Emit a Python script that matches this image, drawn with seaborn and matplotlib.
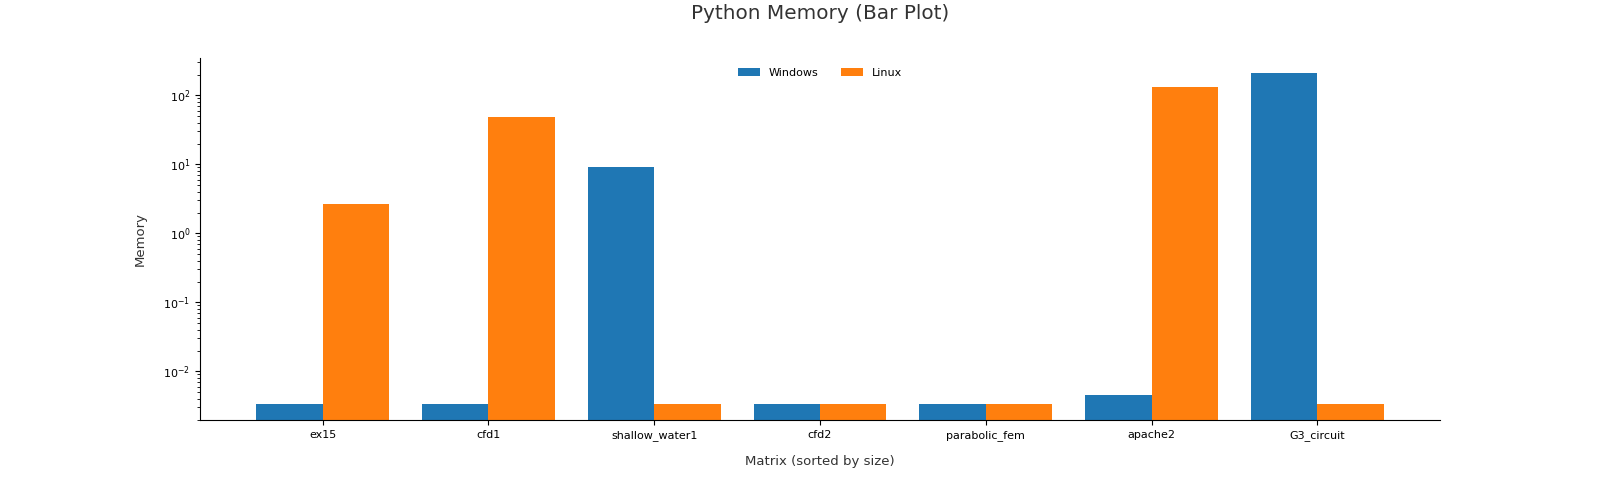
import matplotlib
matplotlib.use("Agg")
import matplotlib.pyplot as plt
import seaborn as sns
import pandas as pd

matrices = ["ex15", "cfd1", "shallow_water1", "cfd2", "parabolic_fem", "apache2", "G3_circuit"]
windows_mem = [0.0034, 0.0034, 9.1, 0.0034, 0.0034, 0.0045, 208.0]
linux_mem = [2.65, 49.0, 0.0034, 0.0034, 0.0034, 130.0, 0.0034]
systems = ["Windows", "Linux"]

df = pd.DataFrame({
    "Matrix": matrices * 2,
    "System": [systems[0]] * len(matrices) + [systems[1]] * len(matrices),
    "Memory": windows_mem + linux_mem,
})

fig, ax = plt.subplots(figsize=(16, 4.8), dpi=100)
fig.subplots_adjust(left=0.125, right=0.9, top=0.88, bottom=0.125)

sns.barplot(data=df, x="Matrix", y="Memory", hue="System", order=matrices,
            hue_order=systems, palette=["#1f77b4", "#ff7f0e"], width=0.8,
            saturation=1, ax=ax)
ax.set_yscale("log")

ax.set_ylim(0.00197, 352)
ax.set_xlim(-0.74, 6.74)
ax.spines["top"].set_visible(False)
ax.spines["right"].set_visible(False)
ax.tick_params(axis="both", labelsize=8)
ax.set_xlabel("Matrix (sorted by size)", fontsize=9.5, color="#333333", labelpad=10)
ax.set_ylabel("Memory", fontsize=9.5, color="#333333", labelpad=12)
fig.suptitle("Python Memory (Bar Plot)", fontsize=14.4, color="#333333",
             x=0.5125, y=0.992)
ax.legend(loc="upper center", ncol=2, frameon=False, fontsize=8)

fig.savefig("out.png", dpi=100)
